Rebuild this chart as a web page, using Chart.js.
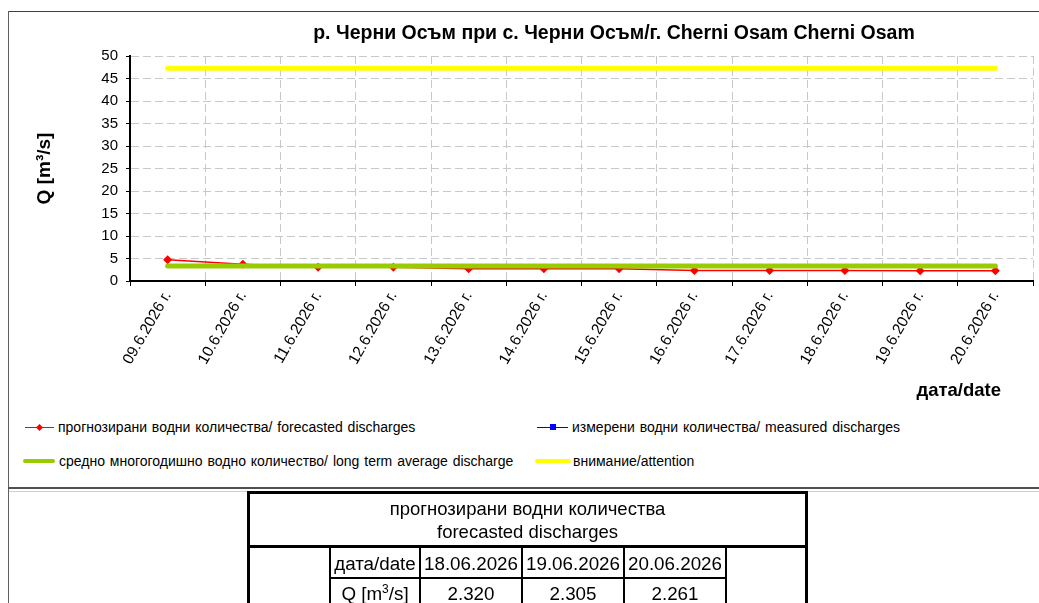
<!DOCTYPE html>
<html>
<head>
<meta charset="utf-8">
<script src="https://cdn.jsdelivr.net/npm/chart.js@4.4.1/dist/chart.umd.min.js"></script>
<style>
  body { margin: 0; background: #fff; font-family: "Liberation Sans", Arial, sans-serif; color: #000; }
  #page { position: relative; width: 1039px; height: 603px; overflow: hidden; }
  #chart { position: absolute; left: 0; top: 0; }
  .abs { position: absolute; white-space: nowrap; }
  .line { position: absolute; }
  #title { left: 0; width: 1228px; top: 21px; line-height: 22px; text-align: center; font-weight: bold; font-size: 19.5px; }
  #xtitle { right: 38px; top: 380px; font-weight: bold; font-size: 18.5px; line-height: 20px; }
  .leg { font-size: 14px; line-height: 16px; word-spacing: 1px; }
  .cell { position: absolute; text-align: center; font-size: 18.8px; line-height: 22px; }
</style>
</head>
<body>
<div id="page">
  <canvas id="chart" width="1039" height="400"></canvas>
  <div id="title" class="abs">р. Черни Осъм при с. Черни Осъм/г. Cherni Osam Cherni Osam</div>
  <div id="xtitle" class="abs">дата/date</div>

  <!-- legend -->
  <div class="line" style="left:25px;top:427px;width:29px;height:1px;background:#ff0000"></div>
  <div class="line" style="left:37px;top:425px;width:5px;height:5px;background:#ff0000;transform:rotate(45deg)"></div>
  <div class="abs leg" style="left:58px;top:419px">прогнозирани  водни количества/ forecasted discharges</div>

  <div class="line" style="left:537px;top:427px;width:31px;height:1px;background:#0000ff"></div>
  <div class="line" style="left:550px;top:424px;width:6px;height:6px;background:#0000ff"></div>
  <div class="abs leg" style="left:572px;top:419px">измерени водни количества/ measured discharges</div>

  <div class="line" style="left:23px;top:459px;width:32px;height:4px;border-radius:2px;background:#99cc00"></div>
  <div class="abs leg" style="left:59px;top:453px">средно  многогодишно  водно количество/ long term average discharge</div>

  <div class="line" style="left:535px;top:459px;width:36px;height:4px;border-radius:2px;background:#ffff00"></div>
  <div class="abs leg" style="left:573px;top:453px">внимание/attention</div>

  <!-- chart box frame -->
  <div class="line" style="left:8px;top:11px;width:1031px;height:1px;background:#404040"></div>
  <div class="line" style="left:8px;top:11px;width:1px;height:592px;background:#606060"></div>
  <div class="line" style="left:8px;top:487px;width:1031px;height:2px;background:#505050"></div>
  <div class="line" style="left:9px;top:491px;width:239px;height:1px;background:#d0d0d0"></div>
  <div class="line" style="left:807px;top:491px;width:232px;height:1px;background:#d0d0d0"></div>

  <!-- table -->
  <div id="table"></div>
</div>

<script>
const categories = ['09.6.2026 г.', '10.6.2026 г.', '11.6.2026 г.', '12.6.2026 г.', '13.6.2026 г.', '14.6.2026 г.',
                    '15.6.2026 г.', '16.6.2026 г.', '17.6.2026 г.', '18.6.2026 г.', '19.6.2026 г.', '20.6.2026 г.'];
const forecasted = [4.7, 3.74, 3.08, 3.08, 2.7, 2.7, 2.7, 2.35, 2.33, 2.32, 2.305, 2.261];
const measured = [];
const longTermAverage = [3.36, 3.36, 3.36, 3.36, 3.36, 3.36, 3.36, 3.36, 3.36, 3.36, 3.36, 3.36];
const attention = [47.3, 47.3, 47.3, 47.3, 47.3, 47.3, 47.3, 47.3, 47.3, 47.3, 47.3, 47.3];
const yMin = 0, yMax = 50, yStep = 5;

const tableHeader = ['прогнозирани водни количества', 'forecasted discharges'];
const tableDates = ['18.06.2026', '19.06.2026', '20.06.2026'];
const tableValues = [2.320, 2.305, 2.261];

function buildTable() {
    const t = document.getElementById('table');
    let html = '';
    const box = (l, tp, w, h) => `<div class="line" style="left:${l}px;top:${tp}px;width:${w}px;height:${h}px;background:#000"></div>`;
    // outer + header separator
    html += box(247, 491, 561, 3);
    html += box(247, 491, 3, 120);
    html += box(805, 491, 3, 120);
    html += box(247, 545, 561, 3);
    // inner column lines
    [329, 419, 521, 623, 725].forEach(x => { html += box(x, 547, 2, 60); });
    html += box(329, 577, 398, 2);

    html += `<div class="cell" style="left:250px;width:555px;top:497px;line-height:23px;font-size:18.5px">${tableHeader[0]}<br>${tableHeader[1]}</div>`;
    html += `<div class="cell" style="left:331px;width:88px;top:553px">дата/date</div>`;
    html += `<div class="cell" style="left:331px;width:88px;top:583px">Q [m<sup style="font-size:12px;line-height:0">3</sup>/s]</div>`;
    const cols = [421, 523, 625];
    tableDates.forEach((d, i) => {
        html += `<div class="cell" style="left:${cols[i]}px;width:100px;top:553px">${d}</div>`;
        html += `<div class="cell" style="left:${cols[i]}px;width:100px;top:583px">${tableValues[i].toFixed(3)}</div>`;
    });
    t.innerHTML = html;
}

function initializeChart() {
    const ctx = document.getElementById('chart').getContext('2d');
    new Chart(ctx, {
        type: 'line',
        data: {
            labels: categories,
            datasets: [
                {
                    label: 'внимание/attention',
                    data: attention,
                    borderColor: '#ffff00',
                    borderWidth: 5,
                    borderCapStyle: 'round',
                    pointRadius: 0,
                    fill: false
                },
                {
                    label: 'средно многогодишно водно количество/ long term average discharge',
                    data: longTermAverage,
                    borderColor: '#99cc00',
                    borderWidth: 5,
                    borderCapStyle: 'round',
                    pointRadius: 0,
                    fill: false
                },
                {
                    label: 'прогнозирани водни количества/ forecasted discharges',
                    data: forecasted,
                    borderColor: '#ff0000',
                    backgroundColor: '#ff0000',
                    borderWidth: 1.5,
                    pointStyle: 'rectRot',
                    pointRadius: 4.5,
                    pointBorderWidth: 0,
                    fill: false,
                    tension: 0
                },
                {
                    label: 'измерени водни количества/ measured discharges',
                    data: measured,
                    borderColor: '#0000ff',
                    backgroundColor: '#0000ff',
                    borderWidth: 1.5,
                    pointStyle: 'rect',
                    pointRadius: 3,
                    fill: false
                }
            ]
        },
        options: {
            responsive: false,
            animation: false,
            layout: { padding: { left: 30, right: 6, top: 56, bottom: 0 } },
            scales: {
                x: {
                    offset: true,
                    grid: {
                        offset: true,
                        color: '#c8c8c8',
                        lineWidth: 1,
                        tickColor: '#000',
                        tickLength: 5,
                        tickBorderDash: []
                    },
                    border: { color: '#000', width: 2, dash: [8, 4] },
                    ticks: {
                        color: '#000',
                        font: { family: 'Liberation Sans', size: 15.5 },
                        minRotation: 60,
                        maxRotation: 60,
                        padding: 2,
                        autoSkip: false
                    },
                    afterFit: function(scale) { scale.height = 119; }
                },
                y: {
                    min: yMin,
                    max: yMax,
                    grid: {
                        color: '#c8c8c8',
                        lineWidth: 1,
                        tickColor: '#000',
                        tickLength: 4,
                        tickBorderDash: []
                    },
                    border: { color: '#000', width: 2, dash: [8, 4] },
                    ticks: {
                        stepSize: yStep,
                        color: '#000',
                        font: { family: 'Liberation Sans', size: 15 },
                        padding: 8
                    },
                    title: {
                        display: true,
                        text: 'Q [m³/s]',
                        color: '#000',
                        font: { family: 'Liberation Sans', size: 19, weight: 'bold' },
                        padding: { top: 3, bottom: 0 }
                    },
                    afterFit: function(scale) { scale.width = 100; }
                }
            },
            plugins: {
                legend: { display: false },
                title: { display: false },
                tooltip: { enabled: false }
            }
        }
    });
}

document.addEventListener('DOMContentLoaded', function() {
    buildTable();
    initializeChart();
});
</script>
</body>
</html>
